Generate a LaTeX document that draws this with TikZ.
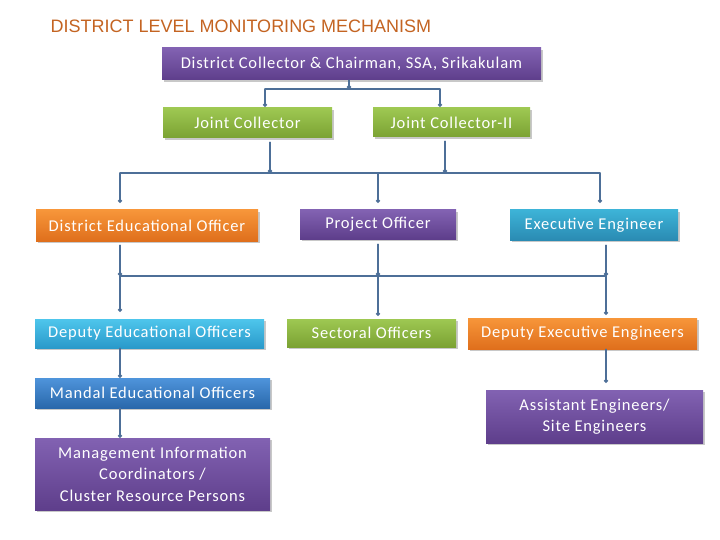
\documentclass[tikz,border=0pt]{standalone}
\usepackage{fontspec}
\setmainfont{Carlito}[LetterSpace=5]
\newfontfamily\titlefont{Liberation Sans}
\usetikzlibrary{arrows.meta, shadows}

\definecolor{titlec}{HTML}{C46422}
\definecolor{linkc}{HTML}{4D6F98}
\definecolor{pu1}{HTML}{8262B2}\definecolor{pu2}{HTML}{5E3E8B}
\definecolor{gr1}{HTML}{9EC852}\definecolor{gr2}{HTML}{7BA233}
\definecolor{or1}{HTML}{F7963A}\definecolor{or2}{HTML}{DF6F1C}
\definecolor{te1}{HTML}{3DB3D7}\definecolor{te2}{HTML}{2A8BB3}
\definecolor{cy1}{HTML}{4EC6EC}\definecolor{cy2}{HTML}{2A99CA}
\definecolor{bl1}{HTML}{4F94DB}\definecolor{bl2}{HTML}{2968AB}

\begin{document}
\begin{tikzpicture}[
  x=1pt, y=-1pt,
  line cap=round, line join=round,
  box/.style={text=white, inner sep=0pt, align=center,
    font=\fontsize{16.5}{21.5}\selectfont,
    drop shadow={shadow xshift=1.5pt, shadow yshift=-2pt, opacity=0.3, fill=black!70}},
  purplebox/.style={box, top color=pu1, bottom color=pu2},
  greenbox/.style={box, top color=gr1, bottom color=gr2},
  orangebox/.style={box, top color=or1, bottom color=or2},
  tealbox/.style={box, top color=te1, bottom color=te2},
  cyanbox/.style={box, top color=cy1, bottom color=cy2},
  bluebox/.style={box, top color=bl1, bottom color=bl2},
  link/.style={draw=linkc, line width=1.3pt, -{Circle[length=4pt]}},
  bus/.style={draw=linkc, line width=1.3pt}
]
  \useasboundingbox[fill=white] (0,0) rectangle (720,540);

  % title
  \node[anchor=west, text=titlec, font=\titlefont\fontsize{18}{20}\selectfont] (title) at (47,26)
    {DISTRICT LEVEL MONITORING MECHANISM};

  % boxes
  \node[purplebox, minimum width=379pt, minimum height=32pt] (dc)    at (351.5,64)  {District Collector \& Chairman, SSA, Srikakulam};
  \node[greenbox,  minimum width=169pt, minimum height=30pt] (jc)    at (247.5,123) {Joint Collector};
  \node[greenbox,  minimum width=157pt, minimum height=29pt] (jc2)   at (451.5,122.5) {Joint Collector-II};
  \node[orangebox, minimum width=222pt, minimum height=31pt] (deo)   at (147,225.5) {District Educational Officer};
  \node[purplebox, minimum width=156pt, minimum height=29pt] (po)    at (378,224.5) {Project Officer};
  \node[tealbox,   minimum width=168pt, minimum height=30pt] (ee)    at (594,225)   {Executive Engineer};
  \node[cyanbox,   minimum width=229pt, minimum height=29pt] (depeo) at (149.5,333.5) {Deputy Educational Officers};
  \node[greenbox,  minimum width=169pt, minimum height=28pt] (so)    at (371.5,333) {Sectoral Officers};
  \node[orangebox, minimum width=229pt, minimum height=31pt] (depee) at (582.5,333.5) {Deputy Executive Engineers};
  \node[bluebox,   minimum width=235pt, minimum height=30pt] (meo)   at (152.5,393) {Mandal Educational Officers};
  \node[purplebox, minimum width=235pt, minimum height=72pt] (mic)   at (152.5,474)
    {Management Information\\Coordinators /\\Cluster Resource Persons};
  \node[purplebox, minimum width=217pt, minimum height=53pt] (ae)    at (594.5,416.5)
    {Assistant Engineers/\\Site Engineers};

  % bus points
  \coordinate (a0) at (349,89);
  \coordinate (a1) at (265,89);
  \coordinate (a2) at (440,89);
  \coordinate (b1) at (270,173);
  \coordinate (b2) at (445,173);
  \coordinate (bl) at (120,173);
  \coordinate (bm) at (378,173);
  \coordinate (br) at (600,173);
  \coordinate (cl) at (120,276);
  \coordinate (cm) at (378,276);
  \coordinate (cr) at (606,276);

  % collector level
  \draw[link] (dc.south -| a0) -- (a0);
  \draw[bus] (a1) -- (a2);
  \draw[link, shorten >=1pt] (a1) -- (a1 |- jc.north);
  \draw[link, shorten >=1pt] (a2) -- (a2 |- jc2.north);

  % officer level
  \draw[link, shorten <=4pt] (b1 |- jc.south) -- (b1);
  \draw[link, shorten <=4pt] (b2 |- jc2.south) -- (b2);
  \draw[bus] (bl) -- (br);
  \draw[link, shorten >=7pt] (bl) -- (bl |- deo.north);
  \draw[link, shorten >=7pt] (bm) -- (bm |- po.north);
  \draw[link, shorten >=7pt] (br) -- (br |- ee.north);

  % deputy level
  \draw[link, shorten <=4pt] (cl |- deo.south) -- (cl);
  \draw[link, shorten <=5pt] (cm |- po.south) -- (cm);
  \draw[link, shorten <=5pt] (cr |- ee.south) -- (cr);
  \draw[bus] (cl) -- (cr);
  \draw[link, shorten >=7pt] (cl) -- (cl |- depeo.north);
  \draw[link, shorten >=3pt] (cm) -- (cm |- so.north);
  \draw[link, shorten >=3pt] (cr) -- (cr |- depee.north);

  % lower chains
  \draw[link] (cl |- depeo.south) -- (cl |- meo.north);
  \draw[link] (cl |- meo.south) -- (cl |- mic.north);
  \draw[link, shorten >=7pt] (cr |- depee.south) -- (cr |- ae.north);
\end{tikzpicture}
\end{document}
